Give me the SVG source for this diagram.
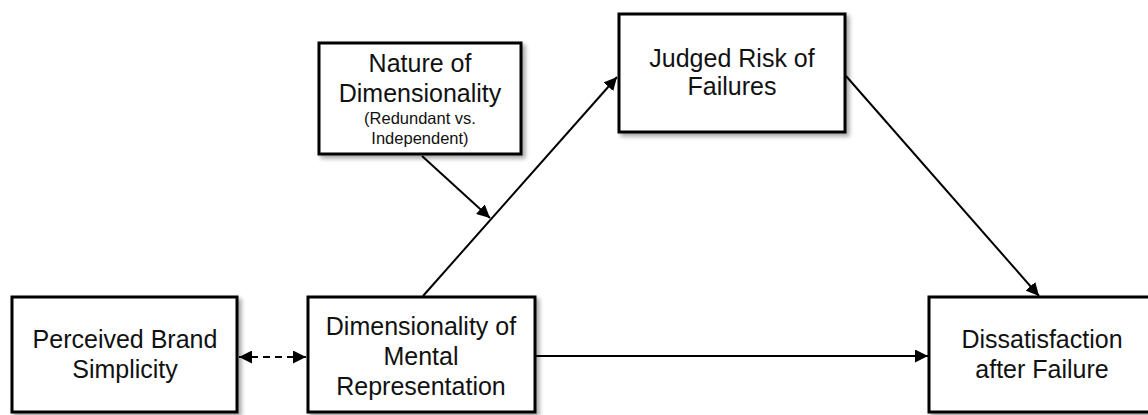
<svg xmlns="http://www.w3.org/2000/svg" width="1148" height="415" viewBox="0 0 1148 415">
<style>
.box{fill:#fff;stroke:#000;stroke-width:3;filter:url(#sh)}
.t{font-family:"Liberation Sans",Arial,sans-serif;font-size:25px;fill:#111;text-anchor:middle}
.s{font-size:16.5px}
.c{stroke:#000;stroke-width:2;fill:none}
</style>
<defs>
<filter id="sh" x="-10%" y="-10%" width="130%" height="130%">
<feDropShadow dx="3" dy="3" stdDeviation="2" flood-color="#000" flood-opacity="0.35"/>
</filter>
<marker id="ah" viewBox="0 0 10 10" refX="10" refY="5" markerWidth="6.5" markerHeight="6.5" orient="auto-start-reverse" markerUnits="strokeWidth">
<path d="M0,0 L10,5 L0,10 z" fill="#000"/>
</marker>
</defs>
<rect width="1148" height="415" fill="#fff"/>
<g id="connectors">
<line class="c" x1="423" y1="296" x2="617" y2="77" marker-end="url(#ah)"/>
<line class="c" x1="846" y1="76" x2="1039" y2="296" marker-end="url(#ah)"/>
<line class="c" x1="422" y1="156" x2="490" y2="218" marker-end="url(#ah)"/>
<line class="c" x1="536" y1="356" x2="928" y2="356" marker-end="url(#ah)"/>
<line class="c" x1="239" y1="357" x2="306" y2="357" stroke-dasharray="7,5" marker-start="url(#ah)" marker-end="url(#ah)"/>
</g>
<g id="nature">
<rect class="box" x="319" y="43" width="202" height="111"/>
<text class="t" x="420" y="72">Nature of</text>
<text class="t" x="420" y="102">Dimensionality</text>
<text class="t s" x="420" y="124">(Redundant vs.</text>
<text class="t s" x="420" y="144">Independent)</text>
</g>
<g id="judged">
<rect class="box" x="619" y="14" width="226" height="118"/>
<text class="t" x="732" y="67">Judged Risk of</text>
<text class="t" x="732" y="95">Failures</text>
</g>
<g id="perceived">
<rect class="box" x="12" y="297" width="225" height="115"/>
<text class="t" x="125" y="348">Perceived Brand</text>
<text class="t" x="125" y="378">Simplicity</text>
</g>
<g id="dimensionality">
<rect class="box" x="308" y="297" width="227" height="115"/>
<text class="t" x="421" y="335">Dimensionality of</text>
<text class="t" x="421" y="365">Mental</text>
<text class="t" x="421" y="395">Representation</text>
</g>
<g id="dissatisfaction">
<rect class="box" x="929" y="297" width="226" height="115"/>
<text class="t" x="1042" y="348">Dissatisfaction</text>
<text class="t" x="1042" y="378">after Failure</text>
</g>
</svg>
